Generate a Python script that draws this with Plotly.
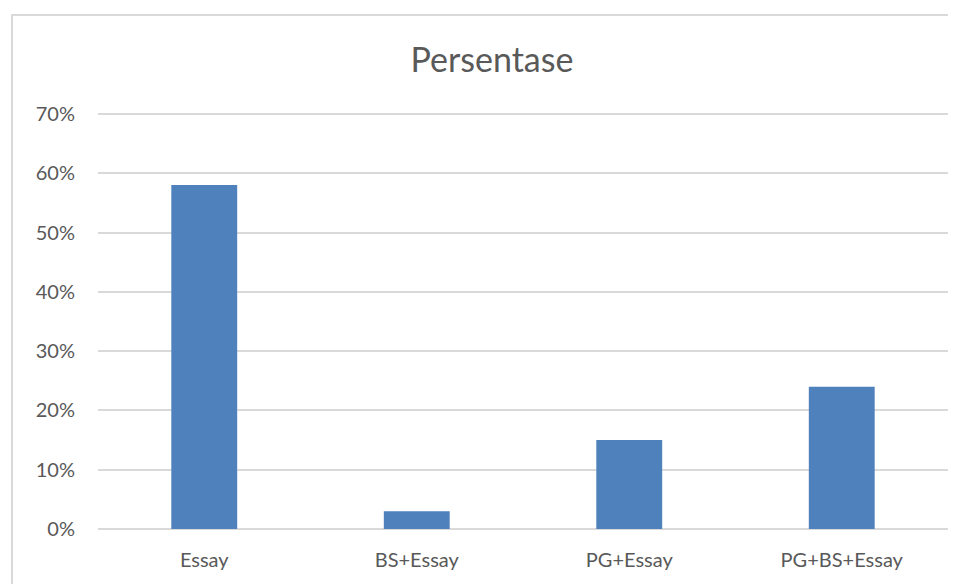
import plotly.graph_objects as go

categories = ["Essay", "BS+Essay", "PG+Essay", "PG+BS+Essay"]
values = [0.58, 0.03, 0.15, 0.24]
y_ticks = [0, 0.1, 0.2, 0.3, 0.4, 0.5, 0.6, 0.7]
y_tick_labels = ["0%", "10%", "20%", "30%", "40%", "50%", "60%", "70%"]

OFF = 8  # page body margin
W, H = 956, 584
YMAX = 0.705
px_per = (529 - 114) / 0.7
top_px = 529 - YMAX * px_per
# target window coordinates of plot area: x 98..948, y top_px..529
L = 98 - OFF
T = top_px - OFF
R = W - (948 - OFF)
B = H - (529 - OFF)
pw, ph = W - L - R, H - T - B

fig = go.Figure(go.Bar(x=categories, y=values, marker=dict(color="#4f81bd", line=dict(width=0))))

FONT = "Lato, Open Sans, sans-serif"
fig.update_layout(
    width=W, height=H,
    margin=dict(l=L, r=R, t=T, b=B, autoexpand=False),
    paper_bgcolor="white", plot_bgcolor="white",
    bargap=0.69,
    showlegend=False,
    font=dict(family=FONT, color="#595959", size=20),
    title=dict(text="Persentase", x=(492 - OFF) / W, xanchor="center", y=1 - (60 - OFF) / H, yanchor="middle",
               font=dict(size=34, color="#595959", family=FONT)),
    xaxis=dict(showgrid=False, showline=False, ticks="", ticklabelstandoff=17,
               tickfont=dict(size=20, color="#595959")),
    yaxis=dict(range=[0, YMAX], tickvals=y_ticks, ticktext=y_tick_labels, showgrid=True,
               gridcolor="#d9d9d9", gridwidth=2, zeroline=True, zerolinecolor="#d9d9d9", zerolinewidth=2,
               showline=False, ticks="", ticklabelstandoff=22, tickfont=dict(size=20, color="#595959")),
    shapes=[dict(type="rect", xref="paper", yref="paper",
                 x0=(12 - OFF - L) / pw, x1=(W + 40 - L) / pw,
                 y0=-(B + 40) / ph, y1=(H - B - (15 - OFF)) / ph,
                 line=dict(color="#d9d9d9", width=2), fillcolor="rgba(0,0,0,0)", layer="below")],
)

fig.write_html("out.html")
